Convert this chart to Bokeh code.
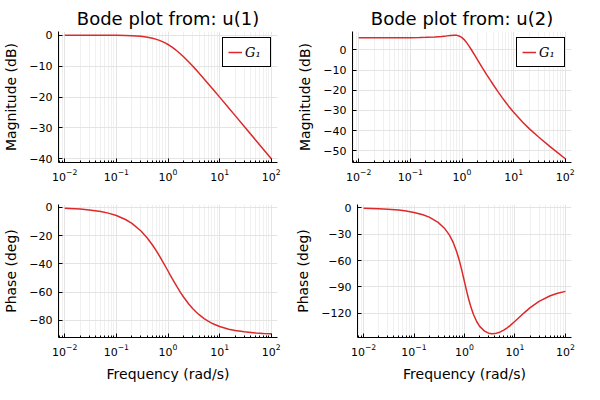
from bokeh.plotting import figure
from bokeh.layouts import column, row
from bokeh.models import Range1d, FixedTicker
from bokeh.embed import file_html
from bokeh.resources import INLINE

# ---- data ----
w = [0.01, 0.02, 0.03, 0.05, 0.07, 0.1, 0.15, 0.2, 0.3, 0.4, 0.5, 0.6, 0.7, 0.8, 0.9,
     1.0, 1.1, 1.2, 1.35, 1.5, 1.75, 2, 2.5, 3, 3.5, 4, 5, 6, 7, 8, 10, 15, 20, 30, 50, 70, 100]

mag1 = [-0.00, -0.00, -0.00, -0.01, -0.02, -0.04, -0.10, -0.17, -0.37, -0.64, -0.97, -1.34,
        -1.74, -2.15, -2.58, -3.01, -3.44, -3.87, -4.51, -5.12, -6.09, -6.99, -8.60, -10.00,
        -11.22, -12.30, -14.15, -15.68, -16.99, -18.13, -20.04, -23.54, -26.03, -29.55,
        -33.98, -36.90, -40.00]
ph1 = [-0.57, -1.15, -1.72, -2.86, -4.00, -5.71, -8.53, -11.31, -16.70, -21.80, -26.57,
       -30.96, -34.99, -38.66, -41.99, -45.00, -47.73, -50.19, -53.47, -56.31, -60.26,
       -63.43, -68.20, -71.57, -74.05, -75.96, -78.69, -80.54, -81.87, -82.87, -84.29,
       -86.19, -87.14, -88.09, -88.85, -89.18, -89.43]
mag2 = [6.02, 6.02, 6.02, 6.03, 6.04, 6.06, 6.12, 6.19, 6.40, 6.65, 6.93, 7.17, 7.29, 7.19,
        6.78, 6.06, 5.09, 3.95, 2.12, 0.31, -2.49, -4.95, -9.01, -12.24, -14.90, -17.16,
        -20.80, -23.65, -25.96, -27.89, -30.93, -35.89, -39.02, -43.06, -47.79, -50.79, -53.94]
ph2 = [-0.52, -1.03, -1.55, -2.58, -3.62, -5.20, -7.87, -10.62, -16.53, -23.17, -30.83,
       -39.72, -49.93, -61.20, -72.94, -84.29, -94.53, -103.30, -113.66, -121.28, -129.76,
       -135.00, -140.50, -142.75, -143.43, -143.27, -141.67, -139.31, -136.71, -134.10,
       -129.23, -119.86, -113.70, -106.52, -100.16, -97.31, -95.14]

x_major = [0.01, 0.1, 1, 10, 100]
x_minor = [m * d for d in [0.001, 0.01, 0.1, 1, 10] for m in range(2, 10) if 0.0076 < m * d < 131]

mag1_ticks = [0, -10, -20, -30, -40]
mag2_ticks = [0, -10, -20, -30, -40, -50]
ph1_ticks = [0, -20, -40, -60, -80]
ph2_ticks = [0, -30, -60, -90, -120]

titles = ["Bode plot from: u(1)", "Bode plot from: u(2)"]
series_label = "G\u2081"
xlabel = "Frequency (rad/s)"
ylabel_mag = "Magnitude (dB)"
ylabel_ph = "Phase (deg)"

RED = "#dc2a2a"
FONT = "DejaVu Sans"


def lab(t):
    return str(t).replace("-", "\u2212")


def make(xs, ys, yr, yticks, title=None, ylabel="", xl=None, legend=False,
         ml=57, mr=15, mt=31, mb=30):
    p = figure(width=292, height=192, output_backend="svg", toolbar_location=None,
               x_axis_type="log", x_range=Range1d(10 ** -2.12, 10 ** 2.12),
               y_range=Range1d(*yr),
               min_border_left=ml, min_border_right=mr, min_border_top=mt,
               min_border_bottom=mb)
    p.outline_line_color = None
    p.background_fill_color = "white"
    p.border_fill_color = "white"
    if title:
        p.title.text = title
        p.title.text_font = FONT
        p.title.text_font_size = "18px"
        p.title.text_font_style = "normal"
        p.title.text_color = "black"
        p.title.align = "center"
        p.title.standoff = 6
    xt = FixedTicker(ticks=x_major, minor_ticks=x_minor)
    p.xaxis.ticker = xt
    p.xgrid.ticker = xt
    yt = FixedTicker(ticks=yticks)
    p.yaxis.ticker = yt
    p.ygrid.ticker = yt
    p.yaxis.major_label_overrides = {t: lab(t) for t in yticks}

    for ax in (p.xaxis[0], p.yaxis[0]):
        ax.axis_line_color = "black"
        ax.axis_line_width = 1
        ax.major_tick_in = 4
        ax.major_tick_out = 0
        ax.minor_tick_in = 2
        ax.minor_tick_out = 0
        ax.major_tick_line_color = "black"
        ax.minor_tick_line_color = "black"
        ax.major_label_text_font = FONT
        ax.major_label_text_font_size = "11px"
        ax.major_label_text_color = "black"
        ax.axis_label_text_font = FONT
        ax.axis_label_text_font_size = "14px"
        ax.axis_label_text_font_style = "normal"
        ax.axis_label_text_color = "black"
        ax.major_label_standoff = 6
        ax.axis_label_standoff = 7
    p.yaxis.minor_tick_line_color = None
    p.yaxis.axis_label = ylabel
    if xl:
        p.xaxis.axis_label = xl

    p.xgrid.grid_line_color = "#e4e4e4"
    p.xgrid.minor_grid_line_color = "#f0f0f0"
    p.ygrid.grid_line_color = "#e4e4e4"

    if legend:
        p.line(xs, ys, line_color=RED, line_width=1.5, legend_label=series_label)
        lg = p.legend[0]
        lg.location = "top_right"
        lg.margin = 6
        lg.padding = 5
        lg.spacing = 0
        lg.border_line_color = "black"
        lg.border_line_alpha = 1
        lg.border_line_width = 1
        lg.background_fill_color = "white"
        lg.background_fill_alpha = 1
        lg.glyph_width = 14
        lg.glyph_height = 18
        lg.label_height = 18
        lg.label_standoff = 3
        lg.label_text_font = "DejaVu Serif"
        lg.label_text_font_style = "italic"
        lg.label_text_font_size = "13px"
        lg.label_text_color = "black"
    else:
        p.line(xs, ys, line_color=RED, line_width=1.5)
    return p


p1 = make(w, mag1, (-41.2, 1.2), mag1_ticks, title=titles[0], ylabel=ylabel_mag,
          legend=True, ml=57, mr=15, mt=31, mb=30)
p2 = make(w, mag2, (-55.8, 9.1), mag2_ticks, title=titles[1], ylabel=ylabel_mag,
          legend=True, ml=60, mr=13, mt=31, mb=30)
p3 = make(w, ph1, (-92.1, 2.1), ph1_ticks, ylabel=ylabel_ph, xl=xlabel,
          ml=57, mr=15, mt=12, mb=46)
p4 = make(w, ph2, (-147.7, 3.8), ph2_ticks, ylabel=ylabel_ph, xl=xlabel,
          ml=60, mr=13, mt=12, mb=46)

layout = column(row(p1, p2), row(p3, p4))
open("out.html", "w").write(file_html(layout, INLINE))
